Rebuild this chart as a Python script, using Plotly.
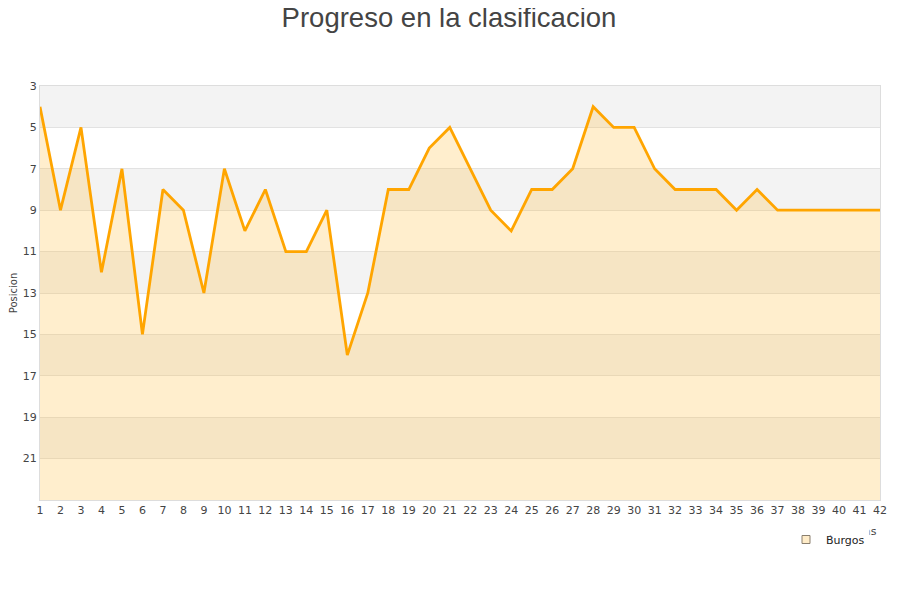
import plotly.graph_objects as go

jornadas = list(range(1, 43))
posicion = [4, 9, 5, 12, 7, 15, 8, 9, 13, 7, 10, 8, 11, 11, 9, 16, 13, 8, 8, 6,
            5, 7, 9, 10, 8, 8, 7, 4, 5, 5, 7, 8, 8, 8, 9, 8, 9, 9, 9, 9, 9, 9]
equipo = "Burgos"
y_ticks = [3, 5, 7, 9, 11, 13, 15, 17, 19, 21]
y_bottom = 23
y_top = 3

# page body has an 8px margin; figure sized so page layout matches 900x600
W, H = 884, 584
OFF = 8
PL, PR, PT, PB = 40, 880, 86, 500  # plot area in page pixels


def px_x(p):
    return (p - PL) / (PR - PL)


def px_y(p):
    return (PB - p) / (PB - PT)


fig = go.Figure()

# baseline for fill
fig.add_trace(go.Scatter(x=jornadas, y=[y_bottom] * len(jornadas), mode="lines",
                         line=dict(width=0, color="rgba(0,0,0,0)"),
                         showlegend=False, hoverinfo="skip"))
fig.add_trace(go.Scatter(x=jornadas, y=posicion, mode="lines", fill="tonexty",
                         fillcolor="rgba(255,190,60,0.26)",
                         line=dict(color="#ffa500", width=2.8),
                         showlegend=False, name=equipo))
# legend entry
fig.add_trace(go.Scatter(x=[None], y=[None], mode="markers", name=equipo,
                         marker=dict(symbol="square", size=8, color="#ffecc8",
                                     line=dict(color="#8a7f6e", width=1))))

shapes = []
for i, t in enumerate(y_ticks):
    if i % 2 == 0:
        shapes.append(dict(type="rect", xref="paper", yref="y", x0=0, x1=1,
                           y0=t, y1=t + 2, fillcolor="#f3f3f3", line=dict(width=0),
                           layer="below"))

fig.update_layout(
    width=W, height=H,
    paper_bgcolor="white", plot_bgcolor="white",
    margin=dict(l=PL - OFF, r=W - (PR - OFF), t=PT - OFF, b=H - (PB - OFF), autoexpand=False),
    title=dict(text="Progreso en la clasificacion", x=(449 - OFF) / W, xanchor="center",
               xref="container", yref="container",
               y=1.0, yanchor="top",
               font=dict(family="Liberation Sans, Arial", size=27.5, color="#444")),
    shapes=shapes,
    xaxis=dict(range=[1, 42], tickmode="array", tickvals=jornadas, automargin=False,
               showgrid=False, zeroline=False, showline=True, linecolor="#dddddd",
               mirror=True, ticks="", tickfont=dict(family="DejaVu Sans", size=11, color="#444")),
    yaxis=dict(range=[y_bottom, y_top], tickmode="array", tickvals=y_ticks, automargin=False,
               showgrid=True, gridcolor="#e2e2e2", zeroline=False, showline=True,
               linecolor="#dddddd", mirror=True, ticks="",
               tickfont=dict(family="DejaVu Sans", size=11, color="#444"),
               title=dict(text="Posicion", standoff=4,
                          font=dict(family="DejaVu Sans", size=10, color="#444"))),
    annotations=[
        # x-axis title, mostly hidden behind the legend as in the reference
        dict(text="Jornadas", xref="paper", yref="paper",
             x=px_x(879), y=px_y(531),
             xanchor="right", yanchor="middle", showarrow=False,
             font=dict(family="DejaVu Sans", size=11, color="#444")),
        dict(text=" ", xref="paper", yref="paper",
             x=px_x(846.5), y=px_y(529), width=45, height=11, borderpad=0,
             xanchor="center", yanchor="middle", showarrow=False,
             bgcolor="white", font=dict(size=8)),
    ],
    legend=dict(xref="container", yref="container", x=(786 - OFF) / W, xanchor="left",
                y=(H - (525 - OFF)) / H, yanchor="top", bgcolor="rgba(0,0,0,0)",
                font=dict(family="DejaVu Sans", size=11, color="#222"),
                itemwidth=30, borderwidth=0),
)

fig.write_html("out.html")
